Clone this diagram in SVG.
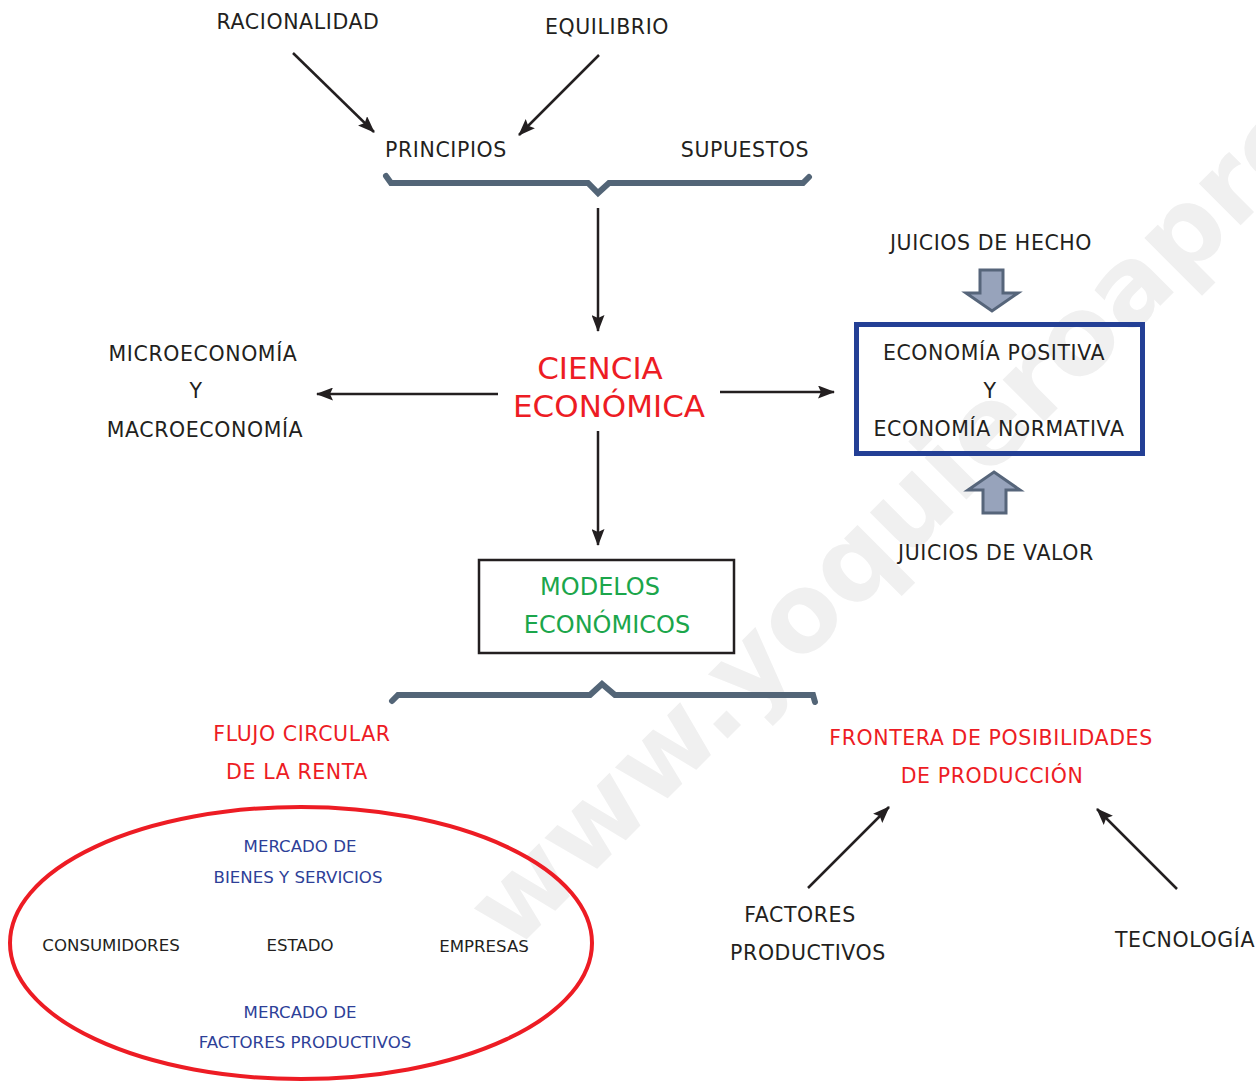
<svg xmlns="http://www.w3.org/2000/svg" width="1256" height="1081" viewBox="0 0 1256 1081">
<style>
  text { font-family: "DejaVu Sans", Verdana, sans-serif; text-anchor: middle; }
  .lbl { font-size: 20.5px; fill: #231f20; letter-spacing: 0.6px; }
  .red { fill: #ed1c24; }
  .big { font-size: 31px; letter-spacing: 0; }
  .grn { font-size: 24px; fill: #1ba64b; }
  .sm { font-size: 16.6px; fill: #231f20; }
  .blu { fill: #2e3f98; }
  .wm { font-size: 108px; font-weight: bold; fill: #f0f0f0; text-anchor: start; }
  .conn { stroke: #231f20; stroke-width: 2.5; fill: none; }
  .brace { stroke: #536577; stroke-width: 6; fill: none; stroke-linecap: round; stroke-linejoin: miter; }
  .hol { fill: #97a3bb; stroke: #56657a; stroke-width: 3; }
</style>
<defs>
  <marker id="ah2" viewBox="0 0 17 13" refX="16" refY="6.5" markerWidth="17" markerHeight="13" markerUnits="userSpaceOnUse" orient="auto">
    <path d="M0,0 L17,6.5 L0,13 L3,6.5 Z" fill="#231f20"/>
  </marker>
</defs>
<rect width="1256" height="1081" fill="#ffffff"/>
<text class="wm" transform="translate(513,953) rotate(-45)">www.yoquieroaprobar.es</text>

<g id="connectors">
  <line class="conn" x1="293" y1="53" x2="374" y2="132" marker-end="url(#ah2)"/>
  <line class="conn" x1="599" y1="55" x2="519" y2="135" marker-end="url(#ah2)"/>
  <line class="conn" x1="598" y1="208" x2="598" y2="331" marker-end="url(#ah2)"/>
  <line class="conn" x1="498" y1="394" x2="317" y2="394" marker-end="url(#ah2)"/>
  <line class="conn" x1="720" y1="392" x2="834" y2="392" marker-end="url(#ah2)"/>
  <line class="conn" x1="598" y1="431" x2="598" y2="545" marker-end="url(#ah2)"/>
  <line class="conn" x1="808" y1="888" x2="889" y2="807" marker-end="url(#ah2)"/>
  <line class="conn" x1="1177" y1="889" x2="1097" y2="809" marker-end="url(#ah2)"/>
  <path class="brace" d="M386,176 L391,183 L588,183 L598,193 L609,183 L803,183 L809,177"/>
  <path class="brace" d="M392,701 L398,695 L590,695 L602,684 L615,695 L813,695 L815,702"/>
  <polygon class="hol" points="980,270 1003,270 1003,293 1018,293 992,311 966,293 980,293"/>
  <polygon class="hol" points="994,472 1020,490 1006,490 1006,513 983,513 983,490 968,490"/>
</g>

<g id="racionalidad"><text class="lbl" x="298" y="29">RACIONALIDAD</text></g>
<g id="equilibrio"><text class="lbl" x="607" y="34">EQUILIBRIO</text></g>
<g id="principios"><text class="lbl" x="446" y="157">PRINCIPIOS</text></g>
<g id="supuestos"><text class="lbl" x="745" y="157">SUPUESTOS</text></g>
<g id="juicios-hecho"><text class="lbl" x="991" y="250">JUICIOS DE HECHO</text></g>
<g id="micro-macro">
  <text class="lbl" x="203" y="361">MICROECONOMÍA</text>
  <text class="lbl" x="196" y="398">Y</text>
  <text class="lbl" x="205" y="437">MACROECONOMÍA</text>
</g>
<g id="ciencia">
  <text class="big red" x="600" y="379">CIENCIA</text>
  <text class="big red" x="609" y="417">ECONÓMICA</text>
</g>
<g id="economia-pos-norm">
  <rect x="856.5" y="324.5" width="286" height="129" fill="none" stroke="#233f95" stroke-width="5"/>
  <text class="lbl" x="994" y="360">ECONOMÍA POSITIVA</text>
  <text class="lbl" x="990" y="398">Y</text>
  <text class="lbl" x="999" y="436">ECONOMÍA NORMATIVA</text>
</g>
<g id="juicios-valor"><text class="lbl" x="996" y="560">JUICIOS DE VALOR</text></g>
<g id="modelos">
  <rect x="479" y="560" width="255" height="93" fill="none" stroke="#231f20" stroke-width="2.5"/>
  <text class="grn" x="600" y="595">MODELOS</text>
  <text class="grn" x="607" y="633">ECONÓMICOS</text>
</g>
<g id="flujo">
  <text class="lbl red" x="302" y="741">FLUJO CIRCULAR</text>
  <text class="lbl red" x="297" y="779">DE LA RENTA</text>
</g>
<g id="frontera">
  <text class="lbl red" x="991" y="745">FRONTERA DE POSIBILIDADES</text>
  <text class="lbl red" x="992" y="783">DE PRODUCCIÓN</text>
</g>
<g id="factores">
  <text class="lbl" x="800" y="922">FACTORES</text>
  <text class="lbl" x="808" y="960">PRODUCTIVOS</text>
</g>
<g id="tecnologia"><text class="lbl" x="1185" y="947">TECNOLOGÍA</text></g>
<g id="circuito">
  <ellipse cx="301" cy="943" rx="291" ry="136" fill="none" stroke="#ed1c24" stroke-width="4"/>
  <text class="sm blu" x="300" y="852">MERCADO DE</text>
  <text class="sm blu" x="298" y="883">BIENES Y SERVICIOS</text>
  <text class="sm" x="111" y="951">CONSUMIDORES</text>
  <text class="sm" x="300" y="951">ESTADO</text>
  <text class="sm" x="484" y="952">EMPRESAS</text>
  <text class="sm blu" x="300" y="1018">MERCADO DE</text>
  <text class="sm blu" x="305" y="1048">FACTORES PRODUCTIVOS</text>
</g>
</svg>
